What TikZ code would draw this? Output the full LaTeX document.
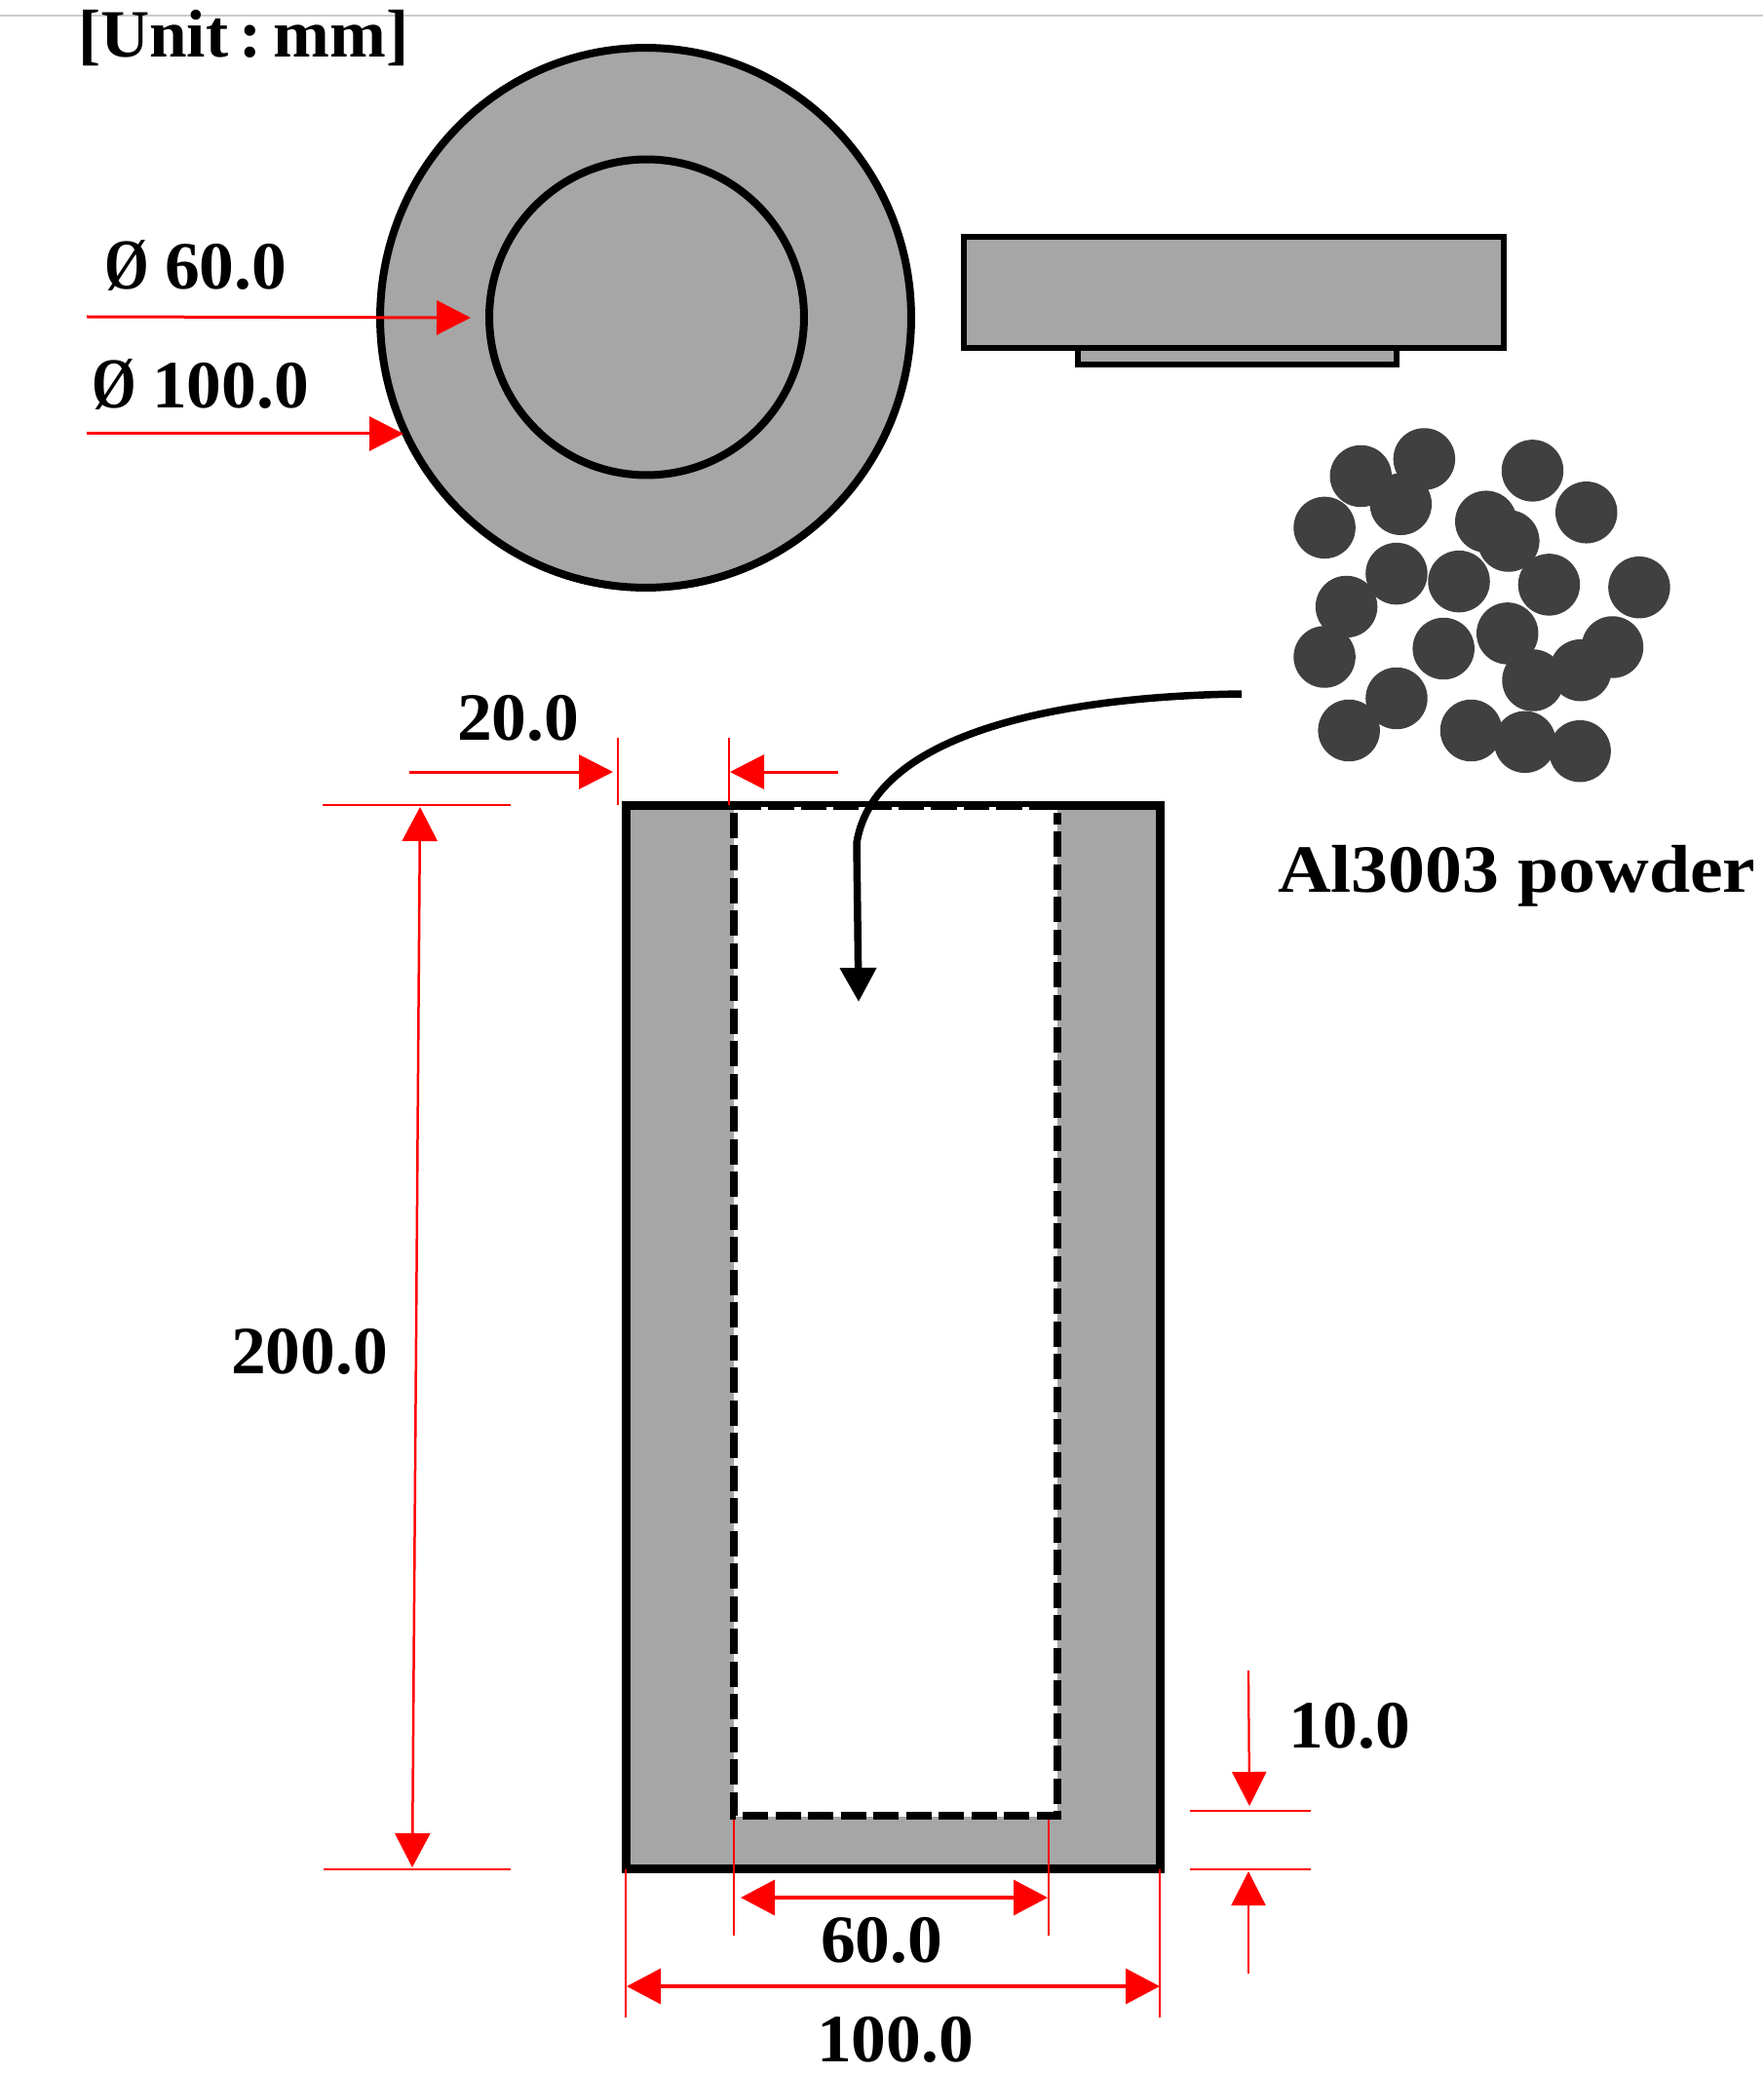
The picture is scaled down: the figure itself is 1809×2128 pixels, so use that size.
\documentclass[tikz,border=0pt]{standalone}
\usepackage{fontspec}
\setmainfont{Liberation Serif}
\usetikzlibrary{arrows.meta,shapes.geometric}
\definecolor{metal}{HTML}{A6A6A6}
\definecolor{grain}{HTML}{404040}
\definecolor{rule}{HTML}{CCCCCC}
\definecolor{dimred}{HTML}{FF0000}
\newcommand{\wideTxt}[1]{\scalebox{1.03}[1]{#1}}
\newcommand{\slimO}{\scalebox{.82}[1.06]{Ø}\hspace{.23em}}
\tikzset{
  lab/.style={inner sep=0pt,outer sep=0pt,anchor=base west,font=\bfseries\fontsize{39.5}{46}\selectfont},
  disc/.style={ellipse,draw=black,fill=metal,line width=0.16cm,inner sep=0pt,outer sep=0pt},
  block/.style={rectangle,draw=black,fill=metal,inner sep=0pt,outer sep=0pt},
  hole/.style={rectangle,fill=white,inner sep=0pt,outer sep=0pt},
  dimarrow/.style={draw=dimred,line width=0.06cm,-{Triangle[length=0.7cm,width=0.7cm]}},
  dimboth/.style={draw=dimred,line width=0.07cm,{Triangle[length=0.7cm,width=0.72cm]}-{Triangle[length=0.7cm,width=0.72cm]}},
  dimtick/.style={draw=dimred,line width=0.04cm},
  dimrule/.style={draw=dimred,line width=0.055cm},
  dashline/.style={draw=black,line width=0.17cm,dash pattern=on 0.52cm off 0.15cm},
  feed/.style={draw=black,line width=0.15cm,-{Triangle[length=0.7cm,width=0.72cm]}},
  grainball/.style={circle,fill=grain,minimum size=1.27cm,inner sep=0pt,outer sep=0pt}
}
\begin{document}
\begin{tikzpicture}[x=0.02cm,y=-0.02cm]
\useasboundingbox (0,0) rectangle (1809,2128);
% top rule
\coordinate (ruleL) at (0,16);
\coordinate (ruleR) at (1809,16);
\draw[rule,line width=0.04cm] (ruleL) -- (ruleR);

% plan view
\node[disc,minimum width=10.9cm,minimum height=11.08cm] (outer) at (662.5,326) {};
\node[disc,minimum width=6.46cm,minimum height=6.48cm] (inner) at (663.5,325.5) {};

% side view
\node[block,line width=0.12cm,minimum width=6.54cm,minimum height=0.35cm] (lip) at (1269.5,365.75) {};
\node[block,line width=0.12cm,minimum width=11.08cm,minimum height=2.28cm] (cap) at (1266,300) {};

% crucible section
\node[block,line width=0.18cm,minimum width=10.98cm,minimum height=21.84cm] (body) at (916.5,1372) {};
\node[hole,minimum width=6.64cm,minimum height=20.7cm] (cavity) at (919,1347) {};
\coordinate (tl) at (642,826);
\coordinate (tr) at (1191,826);
\draw[black,line width=0.18cm] (tl) -- (tr);
\coordinate (c1) at (753,834);
\coordinate (c2) at (753,1863);
\coordinate (c3) at (1085,1863);
\coordinate (c4) at (1085,834);
\draw[dashline] (c1) -- (c2) -- (c3) -- (c4);
\coordinate (t1) at (781,829);
\coordinate (t2) at (1064,829);
\draw[white,line width=0.06cm,dash pattern=on 0.14cm off 0.53cm] (t1) -- (t2);

% powder
\foreach \n/\x/\y in {1/1400.3/488.5,2/1466/471,3/1441.7/517.3,4/1578.2/482.9,5/1634/525.8,6/1362.7/541.4,
  7/1530/535.2,8/1553.3/555,9/1437.3/588.6,10/1502/596.6,11/1595.3/599.9,12/1688.7/602.7,
  13/1385.4/622.5,14/1552.2/649.9,15/1661/664,16/1362.7/674,17/1486/665.5,18/1628/687.7,
  19/1578.7/698,20/1437.3/716.5,21/1388/749.5,22/1514.6/749.5,23/1570.4/761.3,24/1627.3/770.7}
  \node[grainball] (g\n) at ({\x-(\x-989)*0.0097},\y) {};

% feed arrow
\coordinate (f0) at (1274,712);
\coordinate (f1) at (1110,714);
\coordinate (f2) at (898,745);
\coordinate (f3) at (879,865);
\coordinate (f4) at (881,1028);
\draw[feed] (f0) .. controls (f1) and (f2) .. (f3) -- (f4);

% diameter arrows
\coordinate (a60s) at (89,325);
\coordinate (a60e) at (483,326);
\draw[dimarrow] (a60s) -- (a60e);
\coordinate (a100s) at (89,445);
\coordinate (a100e) at (414,445);
\draw[dimarrow] (a100s) -- (a100e);

% wall 20.0
\coordinate (w1) at (420,792);
\coordinate (w2) at (629,792);
\draw[dimarrow] (w1) -- (w2);
\coordinate (w3) at (860,792);
\coordinate (w4) at (749,792);
\draw[dimarrow] (w3) -- (w4);
\coordinate (wt1) at (634,757);
\coordinate (wt2) at (634,826);
\draw[dimtick] (wt1) -- (wt2);
\coordinate (wt3) at (748,757);
\coordinate (wt4) at (748,826);
\draw[dimtick] (wt3) -- (wt4);

% height 200.0
\coordinate (h1) at (331,826);
\coordinate (h2) at (524,826);
\draw[dimrule] (h1) -- (h2);
\coordinate (h3) at (332,1918);
\coordinate (h4) at (524,1918);
\draw[dimrule] (h3) -- (h4);
\coordinate (ha) at (431,828);
\coordinate (hb) at (423,1916);
\draw[dimtick,line width=0.05cm,{Triangle[length=0.7cm,width=0.72cm]}-{Triangle[length=0.7cm,width=0.72cm]}] (ha) -- (hb);

% width 60.0
\coordinate (s1) at (753,1867);
\coordinate (s2) at (753,1986);
\draw[dimtick] (s1) -- (s2);
\coordinate (s3) at (1076,1867);
\coordinate (s4) at (1076,1986);
\draw[dimtick] (s3) -- (s4);
\coordinate (sa) at (760,1947);
\coordinate (sb) at (1075,1947);
\draw[dimboth] (sa) -- (sb);

% width 100.0
\coordinate (o1) at (642,1918);
\coordinate (o2) at (642,2070);
\draw[dimtick] (o1) -- (o2);
\coordinate (o3) at (1190,1918);
\coordinate (o4) at (1190,2070);
\draw[dimtick] (o3) -- (o4);
\coordinate (oa) at (643,2038);
\coordinate (ob) at (1190,2038);
\draw[dimboth] (oa) -- (ob);

% base 10.0
\coordinate (b1) at (1221,1858);
\coordinate (b2) at (1345,1858);
\draw[dimrule] (b1) -- (b2);
\coordinate (b3) at (1221,1918);
\coordinate (b4) at (1345,1918);
\draw[dimrule] (b3) -- (b4);
\coordinate (d1) at (1281,1714);
\coordinate (d2) at (1282,1853);
\draw[dimarrow,line width=0.045cm] (d1) -- (d2);
\coordinate (d3) at (1281,2025);
\coordinate (d4) at (1281,1920);
\draw[dimarrow,line width=0.045cm] (d3) -- (d4);

% labels
\node[lab] (unit) at (80,59) {[Unit\hspace{.17em}:\hspace{.17em}mm]};
\node[lab] (l60d) at (107,297) {\wideTxt{\slimO 60.0}};
\node[lab] (l100d) at (94,419) {\wideTxt{\slimO 100.0}};
\node[lab] (l20) at (469,759) {\wideTxt{20.0}};
\node[lab] (l200) at (237,1409) {\wideTxt{200.0}};
\node[lab] (lpow) at (1311,915) {\scalebox{1.092}[1]{Al3003 powder}};
\node[lab] (l10) at (1322,1793) {\wideTxt{10.0}};
\node[lab] (l60) at (842,2013) {\wideTxt{60.0}};
\node[lab] (l100) at (838,2115) {\wideTxt{100.0}};
\end{tikzpicture}
\end{document}
